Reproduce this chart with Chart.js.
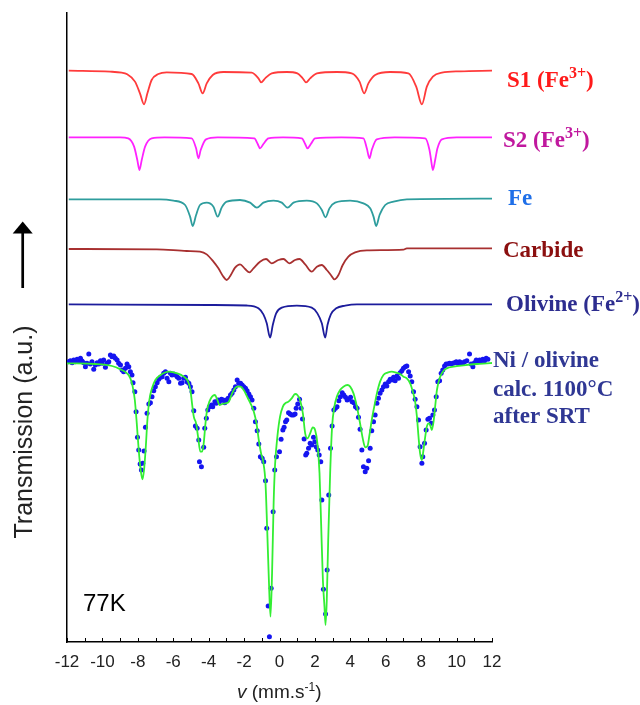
<!DOCTYPE html>
<html>
<head>
<meta charset="utf-8">
<script src="https://cdn.jsdelivr.net/npm/chart.js@4.4.0/dist/chart.umd.min.js"></script>
<style>
  html, body { margin: 0; padding: 0; background: #fff; }
  #wrap { width: 640px; height: 705px; position: relative; }
</style>
</head>
<body>
<div id="wrap"><canvas id="chart" width="640" height="705"></canvas></div>
<script>
// velocity axis (mm/s)
const xMin = -12, xMax = 12;
const yMax = 125.8; // transmission, arbitrary units (curves stacked)

// S1 (Fe3+) sextet
const s1V = [-11.9, -9.57, -8.91, -8.63, -8.16, -7.88, -7.65, -7.46, -7.22, -6.84, -6.37, -4.96, -4.58, -4.34, -4.11, -3.77, -3.17,
  -1.57, -1.19, -1.04, -0.81, -0.44, 0.41, 1.01, 1.31, 1.5, 1.73, 2.11, 3.24, 4.08, 4.52, 4.78, 5.02, 5.4, 6.25,
  7.28, 7.72, 8.04, 8.32, 8.66, 9.17, 10.2, 12];
const s1T = [114.27, 114.07, 113.87, 113.6, 112.07, 109.73, 107.53, 109.73, 112.4, 113.6, 113.93, 113.6, 111.73, 109.73, 111.73, 113.4, 114.0,
  113.87, 112.73, 111.93, 112.73, 113.73, 114.0, 113.73, 112.73, 111.93, 112.73, 113.73, 114.0, 113.73, 112.07, 109.73, 111.73, 113.4, 114.0,
  113.73, 111.07, 107.53, 111.07, 113.07, 113.87, 114.13, 114.27];

// S2 (Fe3+) sextet
const s2V = [-11.9, -9.0, -8.54, -8.21, -8.03, -7.91, -7.78, -7.59, -7.22, -6.5, -4.96, -4.71, -4.58, -4.45, -4.15, -3.5,
  -1.42, -1.23, -1.1, -0.91, -0.63, 0.2, 1.26, 1.45, 1.58, 1.77, 2.01, 3.5, 4.74, 4.93, 5.08, 5.21, 5.49, 6.5,
  8.23, 8.47, 8.56, 8.66, 8.79, 8.92, 9.17, 10, 12];
const s2T = [100.93, 100.93, 100.73, 99.07, 96.4, 94.4, 96.4, 99.07, 100.73, 100.93, 100.73, 98.73, 96.73, 98.4, 100.53, 100.93,
  100.73, 99.6, 98.73, 99.6, 100.73, 100.93, 100.73, 99.6, 98.73, 99.6, 100.73, 100.93, 100.73, 98.73, 96.73, 98.4, 100.53, 100.93,
  100.73, 98.4, 96.4, 94.4, 96.4, 98.73, 100.53, 100.93, 100.93];

// metallic Fe sextet
const feV = [-11.9, -6.75, -5.99, -5.33, -5.05, -4.9, -4.71, -4.49, -4.11, -3.73, -3.49, -3.26, -2.98, -2.23, -1.66, -1.28, -0.91,
  -0.34, 0.13, 0.45, 0.79, 1.54, 2.11, 2.39, 2.6, 2.82, 3.14, 3.99, 4.74, 5.12, 5.31, 5.46, 5.65, 5.97, 6.44, 7.19, 12];
const feT = [88.53, 88.53, 88.27, 87.4, 85.07, 83.2, 85.4, 87.4, 87.87, 87.07, 85.07, 86.93, 88.07, 88.4, 87.87, 86.87, 87.87,
  88.27, 87.87, 86.87, 87.87, 88.27, 87.73, 86.4, 84.93, 86.73, 87.87, 88.27, 87.73, 86.73, 85.07, 83.2, 85.4, 87.4, 88.07, 88.53, 88.67];

// carbide
const carbV = [-11.9, -6.93, -5.24, -4.49, -4.11, -3.73, -3.45, -3.17, -2.98, -2.75, -2.51, -2.23, -1.94, -1.7, -1.47, -1.1, -0.76,
  -0.44, -0.06, 0.22, 0.56, 0.88, 1.13, 1.45, 1.82, 2.11, 2.39, 2.67, 2.9, 3.1, 3.33, 3.57, 3.89, 4.27, 4.93, 7.0, 7.19, 12];
const carbT = [78.6, 78.53, 78.2, 78.07, 77.53, 76.07, 74.73, 73.07, 72.4, 73.4, 74.87, 75.53, 74.6, 73.93, 74.73, 76.07, 76.6,
  75.73, 76.4, 76.6, 75.73, 76.4, 76.6, 75.53, 74.07, 75.07, 75.4, 74.4, 73.4, 72.53, 73.4, 75.4, 77.07, 77.93, 78.33, 78.47, 78.73, 78.73];

// olivine (Fe2+) doublet
const olV = [-11.9, -3.92, -1.85, -1.19, -0.91, -0.72, -0.53, -0.38, -0.19, 0.13, 0.98, 1.82, 2.14, 2.39, 2.58, 2.71, 2.9, 3.2, 3.71, 4.37, 12];
const olT = [67.53, 67.4, 67.3, 66.73, 65.53, 63.73, 60.87, 63.4, 65.73, 66.87, 67.27, 66.87, 65.73, 63.73, 60.87, 63.4, 65.53, 66.73, 67.27, 67.53, 67.53];

// measured spectrum, Ni / olivine calc. 1100°C after SRT, 77K
const dataV = [-11.9, -11.81, -11.71, -11.62, -11.53, -11.43, -11.34, -11.24, -11.15, -11.06, -10.96, -10.87, -10.77, -10.68, -10.59,
  -10.49, -10.4, -10.3, -10.21, -10.11, -10.02, -9.93, -9.83, -9.74, -9.64, -9.55, -9.46, -9.36, -9.27, -9.17, -9.08, -8.98, -8.89,
  -8.8, -8.7, -8.61, -8.51, -8.42, -8.33, -8.27, -8.17, -8.1, -8.02, -7.95, -7.87, -7.8, -7.72, -7.65, -7.57, -7.48, -7.38, -7.29,
  -7.2, -7.1, -7.01, -6.91, -6.82, -6.72, -6.63, -6.54, -6.44, -6.35, -6.25, -6.16, -6.07, -5.97, -5.88, -5.78, -5.69, -5.59, -5.5,
  -5.41, -5.31, -5.22, -5.12, -5.03, -4.94, -4.84, -4.75, -4.65, -4.56, -4.52, -4.41, -4.28, -4.22, -4.13, -4.05, -3.96, -3.84,
  -3.77, -3.65, -3.58, -3.47, -3.39, -3.28, -3.18, -3.09, -3.0, -2.9, -2.77, -2.68, -2.58, -2.49, -2.39, -2.3, -2.2, -2.11, -2.02,
  -1.92, -1.83, -1.73, -1.64, -1.55, -1.45, -1.36, -1.26, -1.17, -1.08, -0.98, -0.89, -0.79, -0.72, -0.64, -0.57, -0.47, -0.36,
  -0.27, -0.17, 0.0, 0.09, 0.19, 0.26, 0.34, 0.41, 0.51, 0.6, 0.69, 0.79, 0.88, 0.94, 1.03, 1.13, 1.22, 1.3, 1.39, 1.48, 1.54,
  1.64, 1.73, 1.82, 1.92, 1.99, 2.07, 2.16, 2.24, 2.33, 2.39, 2.48, 2.6, 2.69, 2.78, 2.88, 2.97, 3.07, 3.16, 3.25, 3.35, 3.44,
  3.54, 3.63, 3.73, 3.82, 3.91, 4.01, 4.1, 4.2, 4.29, 4.38, 4.46, 4.55, 4.65, 4.74, 4.84, 4.93, 5.03, 5.12, 5.21, 5.31, 5.4,
  5.5, 5.59, 5.68, 5.78, 5.87, 5.97, 6.06, 6.16, 6.25, 6.34, 6.44, 6.53, 6.63, 6.72, 6.81, 6.91, 7.0, 7.1, 7.19, 7.29, 7.38,
  7.47, 7.57, 7.66, 7.76, 7.85, 7.94, 8.04, 8.09, 8.19, 8.28, 8.38, 8.47, 8.57, 8.66, 8.75, 8.85, 8.94, 9.04, 9.13, 9.22, 9.32,
  9.41, 9.51, 9.6, 9.7, 9.79, 9.88, 9.98, 10.07, 10.17, 10.26, 10.35, 10.45, 10.58, 10.73, 10.82, 10.92, 11.01, 11.11, 11.2,
  11.3, 11.39, 11.48, 11.58, 11.67, 11.77];
const dataT = [56.07, 56.27, 55.87, 56.4, 56.07, 56.53, 56.27, 56.73, 56.2, 55.87, 55.07, 55.73, 57.6, 55.6, 56.07,
  54.53, 55.4, 55.87, 55.6, 56.27, 55.73, 56.4, 54.93, 55.73, 56.07, 57.4, 57.07, 57.2, 56.73, 56.4, 55.73, 55.4, 54.4,
  54.07, 54.73, 55.6, 55.07, 54.07, 53.4, 51.87, 50.07, 46.07, 40.93, 38.4, 35.6, 34.4, 35.73, 38.2, 42.93, 45.73, 47.6, 47.87,
  49.07, 50.27, 51.07, 51.87, 52.53, 52.93, 53.07, 53.73, 54.07, 52.73, 52.07, 53.73, 53.4, 53.6, 53.4, 53.07, 52.73, 51.73, 51.87,
  52.73, 52.93, 52.07, 51.73, 51.07, 50.07, 46.27, 43.2, 42.73, 40.4, 36.07, 35.07, 38.93, 42.73, 44.73, 46.4, 47.07, 47.4,
  47.07, 48.07, 47.73, 48.4, 48.07, 48.53, 48.4, 47.87, 48.4, 48.73, 49.4, 49.73, 50.4, 51.07, 52.4, 51.73, 51.73, 51.4, 51.07,
  50.73, 50.27, 49.6, 49.07, 48.4, 46.73, 44.07, 42.27, 39.6, 37.07, 36.73, 36.07, 32.27, 22.73, 7.2, 1.07, 10.73, 26.07,
  34.4, 37.07, 38.07, 40.53, 42.4, 42.93, 44.07, 44.4, 45.87, 45.6, 45.4, 45.4, 45.6, 46.73, 47.6, 48.53, 46.73, 44.6, 40.6, 37.4, 37.73,
  38.73, 39.73, 39.4, 40.93, 40.07, 39.07, 38.4, 37.4, 36.07, 28.4, 10.53, 5.6, 14.4, 29.4, 38.73, 43.2, 46.4, 46.73, 47.07, 48.27, 49.07,
  49.87, 49.4, 48.93, 48.4, 48.53, 48.93, 48.07, 47.87, 47.07, 46.73, 44.93, 42.53, 38.4, 35.07, 34.07, 34.73, 36.27, 38.73, 42.27, 44.07, 45.4,
  47.73, 48.73, 49.73, 50.4, 51.07, 51.6, 51.2, 52.07, 52.53, 52.4, 52.93, 52.27, 53.2, 52.73, 53.87, 54.27, 54.73, 55.07, 55.2, 54.07, 53.2,
  52.07, 50.07, 48.53, 47.07, 44.4, 39.07, 35.73, 37.07, 39.73, 42.4, 44.53, 44.73, 43.73, 45.4, 46.4, 49.07, 52.07, 52.27, 53.73, 54.4, 55.2,
  55.6, 55.6, 55.73, 55.6, 55.73, 55.87, 56.07, 55.73, 56.07, 55.87, 55.73, 56.07, 56.27, 57.6, 55.6, 55.07, 55.87, 56.4, 56.07,
  56.4, 56.27, 56.53, 56.27, 56.73, 56.53];

// total fit
const fitV = [-12, -10.4, -9.46, -8.98, -8.61, -8.42, -8.29, -8.17, -8.06, -7.95, -7.84, -7.74, -7.65, -7.55, -7.46, -7.35, -7.2,
  -7.01, -6.72, -6.25, -5.78, -5.41, -5.16, -5.03, -4.94, -4.84, -4.71, -4.6, -4.47, -4.37, -4.28, -4.18, -4.09, -3.96, -3.81, -3.65,
  -3.52, -3.39, -3.24, -3.05, -2.86, -2.71, -2.58, -2.39, -2.2, -2.02, -1.83, -1.64, -1.45, -1.3, -1.17, -1.04, -0.92, -0.79, -0.7,
  -0.6, -0.51, -0.42, -0.33, -0.25, -0.12, 0.03, 0.19, 0.32, 0.51, 0.69, 0.88, 1.01, 1.16, 1.32, 1.45, 1.58, 1.73, 1.88, 2.01, 2.14,
  2.26, 2.35, 2.45, 2.54, 2.6, 2.67, 2.75, 2.86, 2.97, 3.1, 3.24, 3.42, 3.61, 3.84, 3.99, 4.18, 4.37, 4.55, 4.7, 4.84, 4.97, 5.08,
  5.21, 5.35, 5.5, 5.68, 5.87, 6.1, 6.34, 6.59, 6.81, 7.0, 7.19, 7.38, 7.53, 7.66, 7.76, 7.85, 7.94, 8.04, 8.13, 8.23, 8.32, 8.42,
  8.51, 8.6, 8.7, 8.79, 8.89, 9.04, 9.22, 9.45, 9.83, 10.39, 11.15, 11.71, 12];
const fitT = [55.73, 55.6, 55.2, 54.53, 53.73, 52.73, 51.07, 48.4, 43.73, 38.4, 34.4, 32.53, 34.4, 39.07, 44.4, 48.4, 50.73,
  52.4, 53.4, 54.07, 53.73, 53.07, 52.07, 50.4, 47.73, 45.07, 43.73, 41.07, 38.07, 38.07, 39.73, 43.73, 46.4, 48.07, 49.07, 49.4,
  48.53, 47.4, 47.6, 47.73, 48.07, 49.4, 50.4, 51.07, 51.07, 50.4, 49.07, 47.73, 46.07, 43.73, 40.4, 37.73, 36.07, 31.73, 23.07,
  12.4, 5.07, 13.73, 28.0, 35.5, 41.07, 45.07, 47.07, 47.73, 48.07, 48.73, 49.6, 49.4, 48.4, 45.73, 41.73, 40.73, 41.73, 42.93, 42.4, 39.73,
  33.73, 23.73, 12.4, 7.07, 3.4, 8.4, 20.4, 33.73, 43.07, 47.07, 49.07, 50.4, 51.07, 51.4, 51.07, 49.73, 47.07, 43.73, 40.73, 38.93, 39.2, 41.4,
  44.4, 47.07, 49.73, 52.07, 53.4, 53.87, 54.07, 53.87, 53.6, 53.07, 52.73, 51.73, 50.07, 48.07, 45.07, 41.07, 37.73, 36.4, 38.4, 41.07, 43.07, 43.73,
  43.4, 42.4, 44.07, 47.07, 50.4, 52.73, 54.07, 54.73, 55.07, 55.33, 55.6, 55.73, 55.8];

// text beside each curve: parts, colour, gap right of the plot, level (a.u.)
const curveLabels = [
  { parts: [{ t: 'S1 (Fe' }, { t: '3+', sup: true }, { t: ')' }], color: '#ff1a1a', dx: 15, at: 111 },
  { parts: [{ t: 'S2 (Fe' }, { t: '3+', sup: true }, { t: ')' }], color: '#c0189e', dx: 11, at: 99 },
  { parts: [{ t: 'Fe' }], color: '#1f6fe8', dx: 16, at: 87.4 },
  { parts: [{ t: 'Carbide' }], color: '#8b0f0f', dx: 11, at: 77 },
  { parts: [{ t: 'Olivine (Fe' }, { t: '2+', sup: true }, { t: ')' }], color: '#2d2d8f', dx: 14, at: 66.2 },
  { parts: [{ t: 'Ni / olivine' }], color: '#2f3794', dx: 1, at: 55 },
  { parts: [{ t: 'calc. 1100°C' }], color: '#2f3794', dx: 1, at: 49.2 },
  { parts: [{ t: 'after SRT' }], color: '#2f3794', dx: 1, at: 43.8 }
];

const SANS = '"Liberation Sans", Arial, sans-serif';
const SERIF = '"Liberation Serif", "Times New Roman", serif';

function pts(vs, ts) { return vs.map((v, i) => ({ x: v, y: ts[i] })); }

function curve(vs, ts, color, order) {
  return { data: pts(vs, ts), borderColor: color, borderWidth: 1.8, pointRadius: 0,
    cubicInterpolationMode: 'monotone', fill: false, order };
}

function drawRich(ctx, parts, x, y, color, size, family, weight, supScale) {
  const k = supScale || 0.62;
  ctx.fillStyle = color;
  ctx.textBaseline = 'alphabetic';
  ctx.textAlign = 'left';
  parts.forEach(p => {
    const s = p.sup ? Math.round(size * k) : size;
    ctx.font = `${p.italic ? 'italic ' : ''}${weight} ${s}px ${family}`;
    ctx.fillText(p.t, x, p.sup ? y - size * 0.38 : y);
    x += ctx.measureText(p.t).width;
  });
}

const decorPlugin = {
  id: 'decor',
  afterDraw(chart) {
    const { ctx, chartArea: area, scales: { x, y } } = chart;
    ctx.save();

    // ticks point into the plot
    ctx.strokeStyle = '#000';
    ctx.lineWidth = 1;
    for (let v = xMin; v <= xMax; v++) {
      const px = Math.round(x.getPixelForValue(v)) + 0.5;
      ctx.beginPath();
      ctx.moveTo(px, area.bottom);
      ctx.lineTo(px, area.bottom - 4);
      ctx.stroke();
    }

    curveLabels.forEach(l => {
      drawRich(ctx, l.parts, area.right + l.dx, y.getPixelForValue(l.at), l.color, 23, SERIF, 'bold', 0.68);
    });

    // temperature
    drawRich(ctx, [{ t: '77K' }], 83, 611, '#000', 24, SANS, 'normal');

    // x title: v (mm.s-1)
    drawRich(ctx, [{ t: 'v', italic: true }, { t: ' (mm.s' }, { t: '-1', sup: true }, { t: ')' }],
      237, 698, '#222', 19, SANS, 'normal');

    // y title with arrow
    ctx.save();
    ctx.translate(32, 432);
    ctx.rotate(-Math.PI / 2);
    ctx.font = `25px ${SANS}`;
    ctx.fillStyle = '#222';
    ctx.textAlign = 'center';
    ctx.textBaseline = 'alphabetic';
    ctx.fillText('Transmission (a.u.)', 0, 0);
    ctx.restore();

    ctx.strokeStyle = '#000';
    ctx.lineWidth = 2.7;
    ctx.beginPath();
    ctx.moveTo(22.7, 288);
    ctx.lineTo(22.7, 230);
    ctx.stroke();
    ctx.fillStyle = '#000';
    ctx.beginPath();
    ctx.moveTo(22.7, 221.5);
    ctx.lineTo(32.7, 233.5);
    ctx.lineTo(12.7, 233.5);
    ctx.closePath();
    ctx.fill();

    ctx.restore();
  }
};

new Chart(document.getElementById('chart'), {
  type: 'line',
  data: {
    datasets: [
      curve(fitV, fitT, '#33ee33', 0),
      { data: pts(dataV, dataT), showLine: false, pointRadius: 2.5, pointBorderWidth: 0,
        pointBackgroundColor: '#1515f0', order: 1 },
      curve(s1V, s1T, '#ff3b3b', 2),
      curve(s2V, s2T, '#ff22ff', 2),
      curve(feV, feT, '#2e9d9d', 2),
      curve(carbV, carbT, '#a83030', 2),
      curve(olV, olT, '#1c1c9c', 2)
    ]
  },
  options: {
    responsive: false,
    animation: false,
    devicePixelRatio: 1,
    layout: { padding: { top: 13, right: 148, bottom: 0, left: 0 } },
    plugins: { legend: { display: false }, tooltip: { enabled: false } },
    scales: {
      x: {
        type: 'linear', min: xMin, max: xMax,
        afterFit: s => { s.height = 63; },
        grid: { display: false, drawTicks: false },
        border: { display: true, color: '#000', width: 1.5 },
        ticks: {
          stepSize: 1, autoSkip: false, maxRotation: 0, padding: 10, color: '#222',
          font: { family: SANS, size: 17 },
          callback: v => (v % 2 === 0 ? String(v) : '')
        }
      },
      y: {
        min: 0, max: yMax,
        afterFit: s => { s.width = 67; },
        grid: { display: false, drawTicks: false },
        border: { display: true, color: '#000', width: 1.5 },
        ticks: { display: false }
      }
    }
  },
  plugins: [decorPlugin]
});
</script>
</body>
</html>
